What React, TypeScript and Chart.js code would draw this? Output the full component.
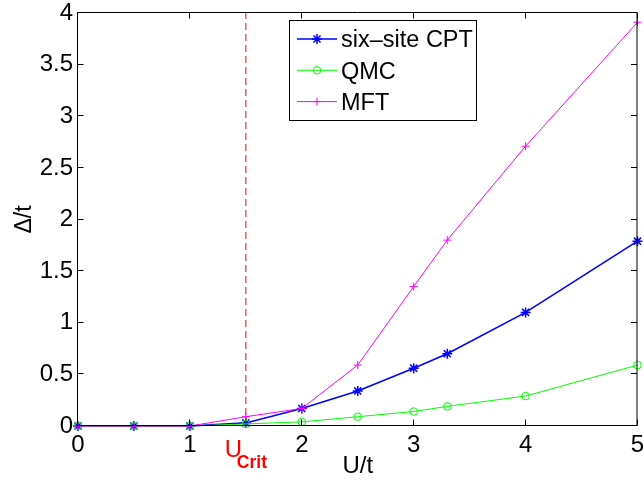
import { useEffect, useRef } from "react";
import { Chart, registerables } from "chart.js";
import { drawPoint } from "chart.js/helpers";

Chart.register(...registerables);

// Interaction strength U/t sampled for every method
const uValues = [0, 0.5, 1, 1.5, 2, 2.5, 3, 3.3, 4, 5];
// Gap Δ/t for each method
const cptGap = [0, 0, 0, 0.03, 0.17, 0.34, 0.56, 0.7, 1.1, 1.79];
const qmcGap = [0, 0, 0, 0.02, 0.04, 0.09, 0.14, 0.19, 0.29, 0.59];
const mftGap = [0, 0, 0, 0.09, 0.17, 0.59, 1.35, 1.8, 2.71, 3.91];
// Critical interaction marked by the dashed line
const uCrit = 1.5;

const xTicks = [0, 1, 2, 3, 4, 5];
const yTicks = [0, 0.5, 1, 1.5, 2, 2.5, 3, 3.5, 4];
const seriesLabels = ["six–site CPT", "QMC", "MFT"];

const FONT = "'Liberation Sans', Arial, Helvetica, sans-serif";

const toPoints = (ys: number[]) => uValues.map((x, i) => ({ x, y: ys[i] }));

// Closed axes box with inward tick marks on all four sides
const framePlugin = {
  id: "frame",
  afterDatasetsDraw(chart: any) {
    const { ctx, chartArea: a, scales } = chart;
    const L = a.left - 0.5;
    const R = a.right - 0.5;
    const T = a.top - 0.5;
    const B = a.bottom - 0.5;
    const tl = 6;
    ctx.save();
    ctx.strokeStyle = "#000";
    ctx.lineWidth = 1;
    ctx.beginPath();
    ctx.rect(L, T, R - L, B - T);
    for (const v of xTicks) {
      const px = Math.round(scales.x.getPixelForValue(v)) - 0.5;
      ctx.moveTo(px, B);
      ctx.lineTo(px, B - tl);
      ctx.moveTo(px, T);
      ctx.lineTo(px, T + tl);
    }
    for (const v of yTicks) {
      const py = Math.round(scales.y.getPixelForValue(v)) - 0.5;
      ctx.moveTo(L, py);
      ctx.lineTo(L + tl, py);
      ctx.moveTo(R, py);
      ctx.lineTo(R - tl, py);
    }
    ctx.stroke();

    // U_Crit label under the dashed line
    const xc = scales.x.getPixelForValue(uCrit);
    ctx.fillStyle = "#ff0000";
    ctx.textBaseline = "alphabetic";
    ctx.textAlign = "left";
    ctx.font = `24px ${FONT}`;
    ctx.fillText("U", xc - 21, 457);
    ctx.font = `bold 17.5px ${FONT}`;
    ctx.fillText("Crit", xc - 9, 468);
    ctx.restore();
  },
};

// Boxed legend in the upper middle of the plot
const legendPlugin = {
  id: "boxLegend",
  afterDraw(chart: any) {
    const { ctx } = chart;
    const x0 = 289.5;
    const y0 = 20.5;
    const w = 187;
    const h = 100;
    ctx.save();
    ctx.fillStyle = "#fff";
    ctx.fillRect(x0, y0, w, h);
    ctx.strokeStyle = "#000";
    ctx.lineWidth = 1;
    ctx.strokeRect(x0, y0, w, h);
    const rows = chart.data.datasets.filter((d: any) => seriesLabels.includes(d.label));
    rows.forEach((d: any, i: number) => {
      const cy = 39 + i * 31.3;
      ctx.strokeStyle = d.borderColor;
      ctx.lineWidth = d.borderWidth;
      ctx.beginPath();
      ctx.moveTo(297, cy);
      ctx.lineTo(337, cy);
      ctx.stroke();
      ctx.fillStyle = "rgba(0,0,0,0)";
      ctx.lineWidth = d.pointBorderWidth;
      drawPoint(ctx, { pointStyle: d.pointStyle, radius: d.pointRadius, rotation: 0, borderWidth: d.pointBorderWidth }, 317, cy);
      ctx.fillStyle = "#000";
      ctx.font = `23.5px ${FONT}`;
      ctx.textAlign = "left";
      ctx.textBaseline = "alphabetic";
      ctx.fillText(d.label, 341, cy + 8.4);
    });
    ctx.restore();
  },
};

export default function App() {
  const canvasRef = useRef<HTMLCanvasElement>(null);

  useEffect(() => {
    const canvas = canvasRef.current;
    if (!canvas) return;
    const tickFont = { family: FONT, size: 24 };
    const chart = new Chart(canvas, {
      type: "line",
      data: {
        datasets: [
          {
            label: "six–site CPT",
            data: toPoints(cptGap),
            borderColor: "#0000ff",
            backgroundColor: "rgba(0,0,0,0)",
            borderWidth: 1.6,
            pointStyle: "star",
            pointRadius: 5,
            pointBorderWidth: 1.5,
            pointBorderColor: "#0000ff",
            pointBackgroundColor: "rgba(0,0,0,0)",
            order: 3,
          },
          {
            label: "QMC",
            data: toPoints(qmcGap),
            borderColor: "#00ff00",
            backgroundColor: "rgba(0,0,0,0)",
            borderWidth: 1,
            pointStyle: "circle",
            pointRadius: 3.8,
            pointBorderWidth: 1,
            pointBorderColor: "#00ff00",
            pointBackgroundColor: "rgba(0,0,0,0)",
            order: 2,
          },
          {
            label: "MFT",
            data: toPoints(mftGap),
            borderColor: "#ff00ff",
            backgroundColor: "rgba(0,0,0,0)",
            borderWidth: 1,
            pointStyle: "cross",
            pointRadius: 4,
            pointBorderWidth: 1,
            pointBorderColor: "#ff00ff",
            pointBackgroundColor: "rgba(0,0,0,0)",
            order: 1,
          },
          {
            label: "critical U",
            data: [
              { x: uCrit, y: yTicks[0] },
              { x: uCrit, y: yTicks[yTicks.length - 1] },
            ],
            borderColor: "#ff0000",
            borderWidth: 1,
            borderDash: [7, 4],
            pointRadius: 0,
            order: 4,
          },
        ],
      },
      options: {
        responsive: false,
        animation: false,
        events: [],
        clip: false as any,
        elements: { line: { tension: 0 } },
        layout: { padding: { top: 13, right: 3, left: 0, bottom: 0 } },
        plugins: { legend: { display: false }, tooltip: { enabled: false } },
        scales: {
          x: {
            type: "linear",
            min: 0,
            max: 5,
            afterBuildTicks: (s: any) => {
              s.ticks = xTicks.map((value) => ({ value }));
            },
            ticks: { font: tickFont, color: "#000", padding: 5, maxRotation: 0, autoSkip: false, callback: (v: any) => String(v) },
            grid: { display: false, drawTicks: false },
            border: { display: false },
            title: { display: true, text: "U/t", color: "#000", font: { family: FONT, size: 24 }, padding: { top: 0, bottom: 0.6 } },
            afterFit: (s: any) => {
              s.height = 55;
              s.paddingLeft = 0;
              s.paddingRight = 0;
            },
          },
          y: {
            type: "linear",
            min: 0,
            max: 4,
            afterBuildTicks: (s: any) => {
              s.ticks = yTicks.map((value) => ({ value }));
            },
            ticks: { font: tickFont, color: "#000", padding: 5, autoSkip: false, callback: (v: any) => String(v) },
            grid: { display: false, drawTicks: false },
            border: { display: false },
            title: { display: true, text: "Δ/t", color: "#000", font: { family: FONT, size: 23 }, padding: { top: 11, bottom: 0 } },
            afterFit: (s: any) => {
              s.width = 78;
              s.paddingTop = 0;
              s.paddingBottom = 0;
            },
          },
        },
      },
      plugins: [framePlugin, legendPlugin],
    } as any);
    return () => chart.destroy();
  }, []);

  return (
    <div style={{ position: "fixed", left: 0, top: 0, width: 644, height: 481, background: "#fff" }}>
      <canvas ref={canvasRef} width={644} height={481} style={{ display: "block" }} />
    </div>
  );
}
